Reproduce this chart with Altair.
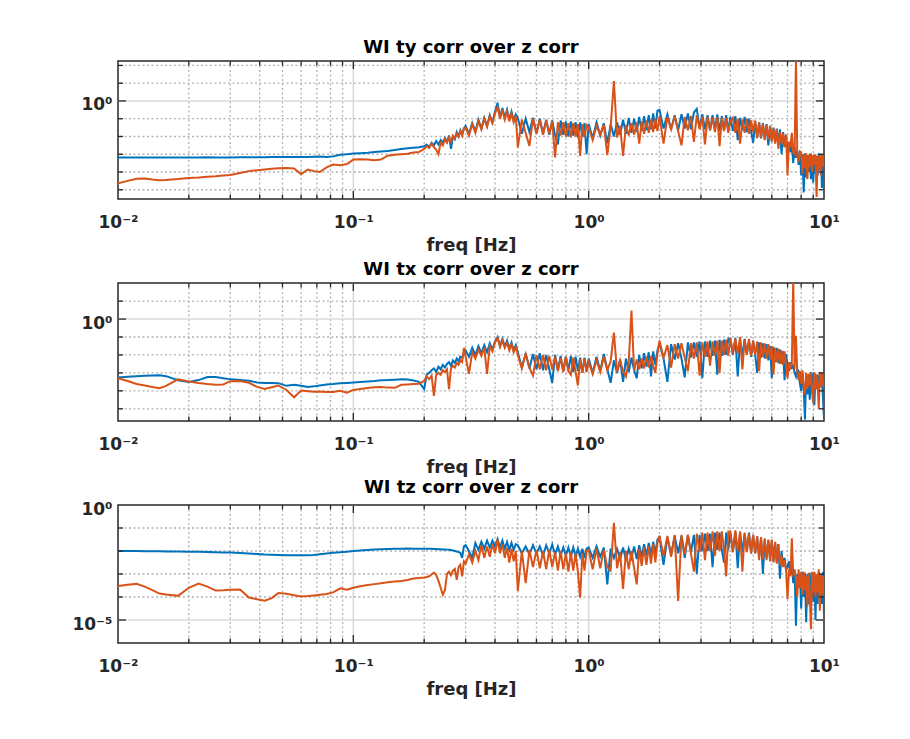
import altair as alt
import pandas as pd

# ---------------- data ----------------
FREQ = [
    0.010, 0.011, 0.012, 0.013, 0.014, 0.015, 0.016, 0.018, 0.020, 0.022,
    0.024, 0.026, 0.028, 0.030, 0.033, 0.036, 0.039, 0.042, 0.045, 0.048,
    0.052, 0.056, 0.060, 0.064, 0.068, 0.072, 0.077, 0.082, 0.088, 0.094,
    0.100, 0.107, 0.115, 0.123, 0.131, 0.140, 0.150, 0.160, 0.170, 0.180, 0.190,
    0.200, 0.205, 0.210, 0.215, 0.220, 0.225, 0.230, 0.235, 0.240, 0.245,
    0.250, 0.255, 0.260, 0.265, 0.270, 0.275, 0.280, 0.285, 0.290, 0.295,
    0.30, 0.31, 0.32, 0.33, 0.34, 0.35, 0.36, 0.37, 0.38, 0.39,
    0.40, 0.41, 0.42, 0.43, 0.44, 0.45, 0.46, 0.47, 0.48, 0.49,
    0.50, 0.52, 0.54, 0.56, 0.58, 0.60, 0.62, 0.64, 0.66, 0.68,
    0.70, 0.72, 0.74, 0.76, 0.78, 0.80, 0.82, 0.84, 0.86, 0.88,
    0.90, 0.92, 0.94, 0.96, 0.98,
    1.00, 1.04, 1.08, 1.12, 1.16, 1.20, 1.24, 1.28, 1.32, 1.36,
    1.40, 1.44, 1.48, 1.52, 1.56, 1.60, 1.64, 1.68, 1.72, 1.76,
    1.80, 1.84, 1.88, 1.92, 1.96,
    2.00, 2.08, 2.16, 2.24, 2.32, 2.40, 2.48, 2.56, 2.64, 2.72,
    2.80, 2.88, 2.96, 3.04, 3.12, 3.20, 3.28, 3.36, 3.44, 3.52,
    3.60, 3.68, 3.76, 3.84, 3.92,
    4.0, 4.1, 4.2, 4.3, 4.4, 4.5, 4.6, 4.7, 4.8, 4.9, 5.0,
    5.1, 5.2, 5.3, 5.4, 5.5, 5.6, 5.7, 5.8, 5.9, 6.0,
    6.1, 6.2, 6.3, 6.4, 6.5, 6.6, 6.7, 6.8, 6.9, 7.0,
    7.1, 7.2, 7.3, 7.4, 7.5, 7.6, 7.7, 7.8, 7.9, 8.0,
    8.1, 8.2, 8.3, 8.4, 8.5, 8.6, 8.7, 8.8, 8.9, 9.0,
    9.1, 9.2, 9.3, 9.4, 9.5, 9.6, 9.7, 9.8, 9.9, 10.0,
]

# values are stored as log10 of the magnitude
TY_BLUE_LOG10 = [
    -3.18, -3.18, -3.18, -3.18, -3.18, -3.18, -3.19, -3.18, -3.18, -3.18,
    -3.17, -3.18, -3.18, -3.18, -3.17, -3.17, -3.17, -3.17, -3.16, -3.16,
    -3.16, -3.15, -3.15, -3.16, -3.14, -3.13, -3.15, -3.12, -3.03, -3.00,
    -2.96, -2.94, -2.92, -2.88, -2.85, -2.82, -2.76, -2.70, -2.66, -2.63, -2.60,
    -2.55, -2.45, -2.60, -2.35, -2.50, -2.25, -2.45, -2.20, -2.35, -2.10,
    -2.30, -1.95, -2.70, -2.00, -2.15, -1.75, -2.00, -1.65, -1.90, -1.55,
    -1.40, -1.85, -1.25, -1.70, -1.05, -1.55, -0.95, -1.40, -0.80, -1.20,
    -0.60, -0.10, -0.90, -0.40, -0.95, -0.50, -1.05, -0.60, -1.10, -0.75,
    -0.95, -1.85, -1.00, -1.75, -0.95, -1.80, -1.00, -1.85, -1.05, -1.90,
    -1.10, -1.95, -2.45, -1.10, -1.90, -1.15, -2.00, -1.15, -1.95, -1.20,
    -2.05, -1.20, -2.00, -1.25, -3.00,
    -1.30, -2.10, -1.20, -1.95, -1.25, -2.40, -1.30, -2.00, -1.20, -1.90,
    -1.05, -1.85, -0.95, -1.80, -1.00, -1.75, -0.90, -1.70, -0.85, -1.65,
    -0.80, -1.60, -0.70, -1.55, -0.55,
    -0.50, -1.55, -0.75, -1.60, -0.80, -1.65, -0.75, -1.55, -0.70, -1.60,
    -0.65, -0.45, -1.50, -0.75, -1.60, -0.80, -1.65, -0.80, -1.60, -0.75,
    -1.70, -0.85, -1.65, -0.80, -1.70,
    -0.90, -1.70, -0.85, -2.20, -0.95, -1.65, -0.90, -1.75, -1.00, -1.70, -2.35,
    -1.15, -2.05, -1.20, -2.10, -1.25, -2.15, -1.30, -2.50, -1.40, -2.25,
    -1.50, -2.35, -1.55, -2.45, -1.60, -3.00, -1.75, -2.60, -1.90, -3.10,
    -2.30, -2.90, -2.40, -3.50, -2.60, -3.20, -2.80, -3.60, -2.90, -4.20,
    -3.00, -5.15, -2.95, -4.30, -3.05, -4.00, -3.00, -4.40, -3.10, -4.60,
    -3.05, -4.10, -3.10, -4.20, -2.95, -3.90, -3.00, -4.90, -3.10, -3.60,
]
TY_ORANGE_LOG10 = [
    -4.64, -4.50, -4.38, -4.36, -4.42, -4.46, -4.45, -4.40, -4.34, -4.31,
    -4.27, -4.24, -4.20, -4.17, -4.06, -3.95, -3.90, -3.86, -3.82, -3.79,
    -3.77, -3.80, -4.12, -3.86, -3.95, -4.00, -3.74, -3.58, -3.62, -3.55,
    -3.30, -3.28, -3.29, -3.34, -3.30, -3.08, -3.03, -3.00, -2.97, -2.90, -2.88,
    -2.70, -2.55, -2.65, -2.40, -2.60, -2.75, -3.00, -2.35, -2.50, -2.15,
    -2.35, -2.05, -2.30, -1.95, -2.10, -1.85, -2.00, -1.70, -1.95, -1.55,
    -1.50, -1.95, -1.30, -1.80, -1.15, -1.60, -1.00, -1.45, -0.85, -1.25,
    -0.70, -0.35, -1.00, -0.50, -1.05, -0.60, -1.15, -0.70, -1.20, -0.85,
    -2.62, -1.05, -1.80, -2.53, -1.00, -1.85, -1.05, -1.90, -1.10, -1.85,
    -1.15, -3.18, -1.20, -1.95, -1.20, -2.00, -1.25, -2.05, -1.25, -2.00,
    -1.30, -3.10, -1.30, -2.05, -1.35,
    -1.50, -2.20, -1.40, -1.90, -1.35, -3.05, -1.45, 1.12, -2.05, -1.40,
    -3.10, -1.35, -1.95, -1.25, -1.90, -1.20, -2.40, -1.15, -1.85, -1.10,
    -1.80, -1.05, -1.75, -1.00, -1.70,
    -0.85, -2.40, -0.90, -1.60, -0.85, -1.70, -2.50, -0.90, -1.65, -0.85,
    -2.30, -0.80, -1.60, -0.90, -2.45, -0.90, -1.65, -0.95, -1.75, -0.90,
    -2.55, -0.95, -1.70, -0.95, -1.80,
    -1.15, -0.95, -1.80, -1.00, -2.40, -1.05, -1.80, -1.00, -1.85, -1.10, -1.75,
    -1.10, -2.10, -1.20, -2.05, -1.30, -2.20, -1.35, -2.15, -1.40, -2.30,
    -1.55, -2.40, -1.60, -2.70, -1.75, -2.45, -1.80, -2.60, -1.90, -4.20,
    -2.30, -2.60, -1.80, -2.90, -3.00, 2.50, -3.10, -3.40, -2.85, -2.90,
    -4.10, -3.00, -3.80, -2.95, -4.40, -3.05, -3.70, -2.95, -4.00, -3.05,
    -3.60, -3.00, -5.40, -3.10, -3.90, -3.00, -4.20, -3.05, -3.70, -2.95,
]
TX_BLUE_LOG10 = [
    -3.26, -3.22, -3.18, -3.16, -3.14, -3.13, -3.18, -3.41, -3.50, -3.40,
    -3.23, -3.23, -3.30, -3.36, -3.40, -3.44, -3.53, -3.56, -3.56, -3.57,
    -3.72, -3.66, -3.72, -3.79, -3.75, -3.70, -3.64, -3.62, -3.58, -3.56,
    -3.54, -3.51, -3.48, -3.45, -3.41, -3.40, -3.38, -3.36, -3.37, -3.42, -3.50,
    -3.90, -3.10, -3.00, -2.85, -2.75, -2.95, -2.65, -2.80, -2.55, -2.70,
    -2.50, -2.40, -2.60, -2.30, -2.45, -2.20, -2.35, -2.10, -2.15, -1.95,
    -1.75, -2.10, -1.60, -2.00, -1.50, -1.90, -1.45, -1.85, -1.35, -1.70,
    -1.25, -1.00, -1.50, -1.10, -1.55, -1.20, -1.65, -1.30, -1.75, -1.45,
    -1.85, -2.70, -1.90, -2.75, -1.95, -2.80, -1.90, -2.85, -2.00, -2.80,
    -3.55, -2.00, -2.85, -2.05, -2.90, -2.10, -2.85, -2.05, -2.95, -2.10,
    -2.90, -2.15, -3.00, -2.15, -2.90,
    -2.20, -3.00, -2.10, -2.90, -1.95, -2.80, -3.55, -2.30, -3.00, -2.25,
    -3.50, -2.20, -2.95, -2.15, -2.85, -3.30, -2.00, -2.75, -1.90, -2.65,
    -1.85, -3.20, -1.80, -2.55, -1.75,
    -1.35, -2.20, -3.50, -1.40, -2.25, -1.35, -2.20, -3.25, -1.30, -2.15,
    -1.30, -2.10, -1.25, -3.30, -1.25, -2.10, -1.20, -2.05, -1.20, -3.10,
    -1.15, -2.05, -1.15, -2.00, -1.10,
    -1.10, -2.00, -1.05, -3.20, -1.15, -2.05, -1.10, -1.95, -1.20, -2.10, -1.20,
    -2.00, -3.00, -1.30, -2.15, -1.35, -2.20, -1.40, -2.30, -1.50, -3.30,
    -1.55, -2.40, -1.60, -2.45, -1.70, -2.50, -1.80, -3.40, -1.95, -2.60,
    -2.90, -2.40, -2.70, -2.60, -3.00, -3.20, -2.80, -2.90, -3.60, -4.00,
    -3.00, -3.90, -5.60, -3.10, -4.20, -3.10, -4.50, -2.95, -3.80, -3.00,
    -4.80, -3.05, -3.90, -3.10, -4.20, -3.00, -3.80, -3.20, -4.40, -5.60,
]
TX_ORANGE_LOG10 = [
    -3.30, -3.45, -3.62, -3.70, -3.78, -3.85, -3.72, -3.36, -3.48, -3.56,
    -3.62, -3.66, -3.64, -3.46, -3.45, -3.55, -3.78, -3.90, -3.80, -3.70,
    -3.95, -4.36, -3.98, -4.02, -4.05, -4.04, -4.06, -4.07, -4.00, -4.10,
    -3.95, -3.90, -3.84, -3.80, -3.79, -3.82, -3.83, -3.66, -3.64, -3.62, -3.60,
    -3.45, -3.20, -3.35, -3.15, -4.28, -3.10, -3.00, -3.10, -2.85, -2.95,
    -2.80, -3.90, -2.75, -2.60, -2.70, -2.45, -2.55, -2.30, -2.40, -1.60,
    -2.10, -3.05, -1.85, -2.20, -1.70, -2.05, -1.60, -3.05, -1.50, -1.80,
    -1.30, -1.05, -1.55, -1.20, -1.60, -1.30, -1.75, -1.40, -1.85, -1.55,
    -2.00, -2.75, -1.95, -2.70, -3.15, -2.00, -2.80, -2.00, -2.85, -2.05,
    -2.80, -2.10, -2.90, -2.15, -2.95, -2.10, -2.90, -3.10, -2.15, -2.95,
    -3.70, -2.20, -3.00, -2.20, -2.95,
    -2.40, -3.05, -2.30, -2.95, -2.10, -2.85, -2.35, -0.75, -2.95, -2.30,
    -2.90, -3.20, -2.35, 0.47, -2.90, -2.25, -2.80, -2.20, -2.75, -2.10,
    -2.70, -2.05, -2.60, -3.00, -1.95,
    -1.20, -2.15, -1.45, -2.70, -1.40, -2.20, -1.35, -2.15, -2.90, -1.35,
    -2.20, -1.30, -3.15, -1.30, -2.10, -1.25, -2.60, -1.25, -2.05, -1.20,
    -3.00, -1.20, -2.00, -1.15, -2.05,
    -1.05, -1.95, -1.10, -1.90, -1.00, -2.80, -1.15, -2.00, -1.10, -2.05, -1.20,
    -2.00, -1.25, -2.90, -1.30, -2.10, -1.35, -2.20, -1.40, -2.25, -1.50,
    -3.10, -1.60, -2.40, -1.65, -2.50, -1.75, -2.55, -1.80, -2.60, -3.30,
    -2.40, -2.70, -2.50, 2.30, -2.80, -0.93, -3.00, -3.40, -2.90, -3.60,
    -2.85, -3.90, -4.20, -3.00, -3.90, -3.05, -3.70, -3.00, -4.10, -4.70,
    -2.95, -3.90, -3.10, -3.70, -5.00, -2.95, -3.80, -3.00, -3.60, -3.80,
]
TZ_BLUE_LOG10 = [
    -2.00, -2.00, -2.00, -2.01, -2.01, -2.01, -2.02, -2.02, -2.03, -2.03,
    -2.04, -2.05, -2.06, -2.07, -2.09, -2.11, -2.13, -2.15, -2.16, -2.17,
    -2.18, -2.19, -2.19, -2.18, -2.17, -2.14, -2.11, -2.08, -2.05, -2.03,
    -2.00, -1.98, -1.96, -1.94, -1.92, -1.91, -1.90, -1.90, -1.89, -1.90, -1.90,
    -1.90, -1.90, -1.90, -1.90, -1.91, -1.91, -1.92, -1.92, -1.93, -1.93,
    -1.94, -1.95, -1.96, -1.98, -2.00, -2.02, -2.05, -2.08, -2.30, -1.80,
    -1.75, -2.00, -2.30, -1.65, -1.95, -1.60, -1.90, -1.55, -1.85, -1.55,
    -1.80, -1.48, -1.85, -1.55, -1.90, -1.60, -1.95, -1.65, -1.95, -1.70,
    -1.75, -2.10, -1.80, -2.15, -1.75, -2.10, -1.80, -2.20, -1.75, -2.10,
    -1.72, -2.15, -1.80, -2.20, -1.85, -2.20, -1.85, -2.25, -1.85, -2.25,
    -1.90, -2.25, -1.90, -2.30, -1.90,
    -1.85, -2.30, -1.80, -2.25, -1.85, -3.45, -1.90, -2.30, -1.90, -2.35,
    -1.85, -2.40, -1.90, -2.30, -1.80, -2.35, -1.75, -2.25, -1.70, -2.20,
    -1.65, -2.15, -1.60, -2.10, -1.50,
    -1.40, -2.60, -1.40, -2.15, -1.35, -2.10, -1.35, -2.30, -1.30, -2.05,
    -1.30, -3.00, -1.30, -2.00, -1.25, -2.00, -1.25, -2.70, -1.20, -1.95,
    -1.20, -1.95, -2.50, -1.20, -1.95,
    -1.20, -2.05, -1.15, -2.75, -1.20, -2.05, -1.25, -2.00, -1.20, -2.10, -1.30,
    -2.10, -1.40, -2.25, -1.45, -3.00, -1.50, -2.30, -1.55, -2.35, -1.55,
    -2.45, -1.65, -2.50, -1.70, -3.20, -2.00, -2.60, -2.30, -2.80, -2.70,
    -2.45, -3.00, -2.60, -3.40, -2.80, -5.25, -3.00, -3.60, -3.00, -4.50,
    -2.90, -4.00, -2.95, -5.10, -3.00, -4.30, -2.95, -4.00, -3.00, -4.20,
    -2.95, -5.00, -3.00, -4.30, -2.90, -4.00, -3.10, -4.30, -2.90, -4.80,
]
TZ_ORANGE_LOG10 = [
    -3.52, -3.47, -3.43, -3.55, -3.70, -3.85, -3.89, -3.95, -3.60, -3.42,
    -3.55, -3.72, -3.71, -3.69, -3.67, -4.02, -4.10, -4.16, -4.05, -3.83,
    -3.86, -3.92, -3.98, -3.96, -3.93, -3.90, -3.87, -3.80, -3.62, -3.68,
    -3.60, -3.53, -3.48, -3.44, -3.40, -3.36, -3.33, -3.30, -3.26, -3.20, -3.17,
    -3.15, -3.13, -3.10, -3.02, -2.94, -3.05, -3.30, -3.60, -3.90, -3.70,
    -3.00, -2.90, -3.05, -2.85, -2.78, -3.25, -2.70, -2.60, -3.10, -2.45,
    -2.55, -2.15, -2.50, -2.00, -2.40, -1.75, -2.30, -1.80, -2.25, -1.70,
    -2.10, -1.50, -2.10, -1.70, -2.30, -1.85, -2.50, -1.90, -2.45, -2.00,
    -3.74, -2.00, -3.40, -1.95, -2.70, -1.95, -2.75, -2.00, -2.80, -1.95,
    -2.70, -2.05, -2.85, -2.00, -2.80, -2.10, -2.90, -2.05, -2.85, -2.10,
    -2.90, -4.03, -2.10, -2.85, -2.00,
    -1.95, -2.80, -1.90, -2.75, -1.95, -2.70, -2.85, -0.77, -2.75, -2.05,
    -3.65, -2.00, -2.80, -2.00, -2.75, -3.45, -1.90, -2.65, -1.85, -2.60,
    -1.80, -2.55, -1.70, -2.50, -1.65,
    -1.35, -2.20, -1.35, -2.25, -1.30, -4.17, -1.30, -2.15, -1.30, -2.10,
    -2.90, -1.25, -2.05, -1.20, -2.40, -1.20, -2.00, -1.15, -2.20, -1.15,
    -2.00, -1.15, -1.95, -3.10, -1.15,
    -1.15, -2.05, -1.10, -2.00, -1.15, -2.90, -1.20, -2.05, -1.25, -2.10, -1.30,
    -2.10, -1.35, -2.40, -1.40, -2.35, -1.45, -2.40, -1.50, -2.45, -1.50,
    -2.50, -1.60, -2.55, -1.70, -2.60, -2.20, -2.70, -2.40, -2.85, -4.10,
    -2.80, -3.10, -1.45, -3.00, -2.90, -3.20, -4.00, -2.80, -3.60, -2.90,
    -3.90, -2.90, -3.70, -3.10, -4.40, -2.95, -4.00, -5.40, -2.90, -3.80,
    -2.90, -4.00, -3.00, -3.80, -2.80, -4.60, -3.00, -3.90, -3.10, -4.00,
]

TITLES = ["WI ty corr over z corr", "WI tx corr over z corr", "WI tz corr over z corr"]
X_LABEL_VALUES = [0.01, 0.1, 1, 10]
X_MAJOR_GRID = [0.1, 1]
X_MINOR_GRID = [0.02, 0.03, 0.04, 0.05, 0.06, 0.07, 0.08, 0.09,
                0.2, 0.3, 0.4, 0.5, 0.6, 0.7, 0.8, 0.9,
                2, 3, 4, 5, 6, 7, 8, 9]

# ---------------- style ----------------
BLUE = "#0072BD"
ORANGE = "#D95319"
AXC = "#262626"
MAJOR_C = "#dadada"
MINOR_C = "#b3b3b3"
FONT = "DejaVu Sans"
W, H = 706, 138

X_LABEL_EXPR = ("datum.value < 0.05 ? '10⁻²' : datum.value < 0.5 ? '10⁻¹' : "
                "datum.value < 5 ? '10⁰' : '10¹'")


def panel(title, blue_log, orange_log, ydom, y_labels, y_label_expr,
          y_major, y_minor):
    xsc = alt.Scale(type="log", domain=[0.01, 10], nice=False)
    ysc = alt.Scale(type="log", domain=ydom, nice=False)
    x_axis = alt.Axis(values=X_LABEL_VALUES, labelExpr=X_LABEL_EXPR,
                      title="freq [Hz]", labelFlush=False, labelBound=False,
                      labelOverlap=False, labelPadding=15, titlePadding=6,
                      orient="bottom")
    y_axis = alt.Axis(values=y_labels, labelExpr=y_label_expr, title="",
                      labelBaseline="alphabetic", labelOffset=9,
                      labelPadding=6, labelOverlap=False, orient="left")
    xe = alt.X("f:Q", scale=xsc, axis=x_axis)
    ye = alt.Y("v:Q", scale=ysc, axis=y_axis)

    blue_df = pd.DataFrame({"f": FREQ, "v": [10 ** e for e in blue_log]})
    orange_df = pd.DataFrame({"f": FREQ, "v": [10 ** e for e in orange_log]})
    xmaj = pd.DataFrame({"f": X_MAJOR_GRID})
    xmin = pd.DataFrame({"f": X_MINOR_GRID})
    ymaj = pd.DataFrame({"v": y_major})
    ymin = pd.DataFrame({"v": y_minor})

    gx_min = alt.Chart(xmin).mark_rule(color=MINOR_C, strokeWidth=1.3,
                                       strokeDash=[2, 2.5]).encode(x=xe)
    gx_maj = alt.Chart(xmaj).mark_rule(color=MAJOR_C, strokeWidth=1.6).encode(x=xe)
    gy_min = alt.Chart(ymin).mark_rule(color=MINOR_C, strokeWidth=1.3,
                                       strokeDash=[2, 2.5]).encode(y=ye)
    gy_maj = alt.Chart(ymaj).mark_rule(color=MAJOR_C, strokeWidth=1.6).encode(y=ye)

    line_b = alt.Chart(blue_df).mark_line(color=BLUE, strokeWidth=2, clip=True).encode(
        x=xe, y=ye)
    line_o = alt.Chart(orange_df).mark_line(color=ORANGE, strokeWidth=2, clip=True).encode(
        x=xe, y=ye)

    tk = dict(color=AXC, strokeWidth=1.3)
    ticks = [
        alt.Chart(xmaj).mark_rule(**tk).encode(x=xe, y=alt.value(H), y2=alt.value(H - 8)),
        alt.Chart(xmaj).mark_rule(**tk).encode(x=xe, y=alt.value(0), y2=alt.value(8)),
        alt.Chart(xmin).mark_rule(**tk).encode(x=xe, y=alt.value(H), y2=alt.value(H - 4.5)),
        alt.Chart(xmin).mark_rule(**tk).encode(x=xe, y=alt.value(0), y2=alt.value(4.5)),
        alt.Chart(ymaj).mark_rule(**tk).encode(y=ye, x=alt.value(0), x2=alt.value(8)),
        alt.Chart(ymaj).mark_rule(**tk).encode(y=ye, x=alt.value(W), x2=alt.value(W - 8)),
        alt.Chart(ymin).mark_rule(**tk).encode(y=ye, x=alt.value(0), x2=alt.value(5)),
        alt.Chart(ymin).mark_rule(**tk).encode(y=ye, x=alt.value(W), x2=alt.value(W - 5)),
    ]

    return alt.layer(gx_min, gx_maj, gy_min, gy_maj, line_b, line_o, *ticks).properties(
        width=W, height=H,
        title=alt.TitleParams(text=title, font=FONT, fontSize=18, fontWeight="bold",
                              color="#000000", anchor="middle", offset=3),
    )


p1 = panel(TITLES[0], TY_BLUE_LOG10, TY_ORANGE_LOG10,
           [10 ** -5.52, 10 ** 2.25], [1], "'10⁰'",
           [1], [1e2, 1e1, 1e-1, 1e-2, 1e-3, 1e-4, 1e-5])
p2 = panel(TITLES[1], TX_BLUE_LOG10, TX_ORANGE_LOG10,
           [10 ** -5.68, 10 ** 2.01], [1], "'10⁰'",
           [1], [1e1, 1e-1, 1e-2, 1e-3, 1e-4, 1e-5])
p3 = panel(TITLES[2], TZ_BLUE_LOG10, TZ_ORANGE_LOG10,
           [1e-6, 1], [1, 1e-5], "datum.value > 0.01 ? '10⁰' : '10⁻⁵'",
           [1e-5], [1e-1, 1e-2, 1e-3, 1e-4])

chart = alt.vconcat(p1, p2, p3, spacing=84, bounds="flush").properties(
    padding={"left": 63, "top": 30, "right": 10, "bottom": 10},
    background="white",
).configure_view(
    stroke=AXC, strokeWidth=1.5,
).configure_axis(
    labelFont=FONT, labelFontSize=17, labelFontWeight="bold", labelColor=AXC,
    titleFont=FONT, titleFontSize=18, titleFontWeight="bold", titleColor=AXC,
    grid=False, ticks=False, domain=False,
)

chart.save("out.html", embed_options={"renderer": "svg", "actions": False})
